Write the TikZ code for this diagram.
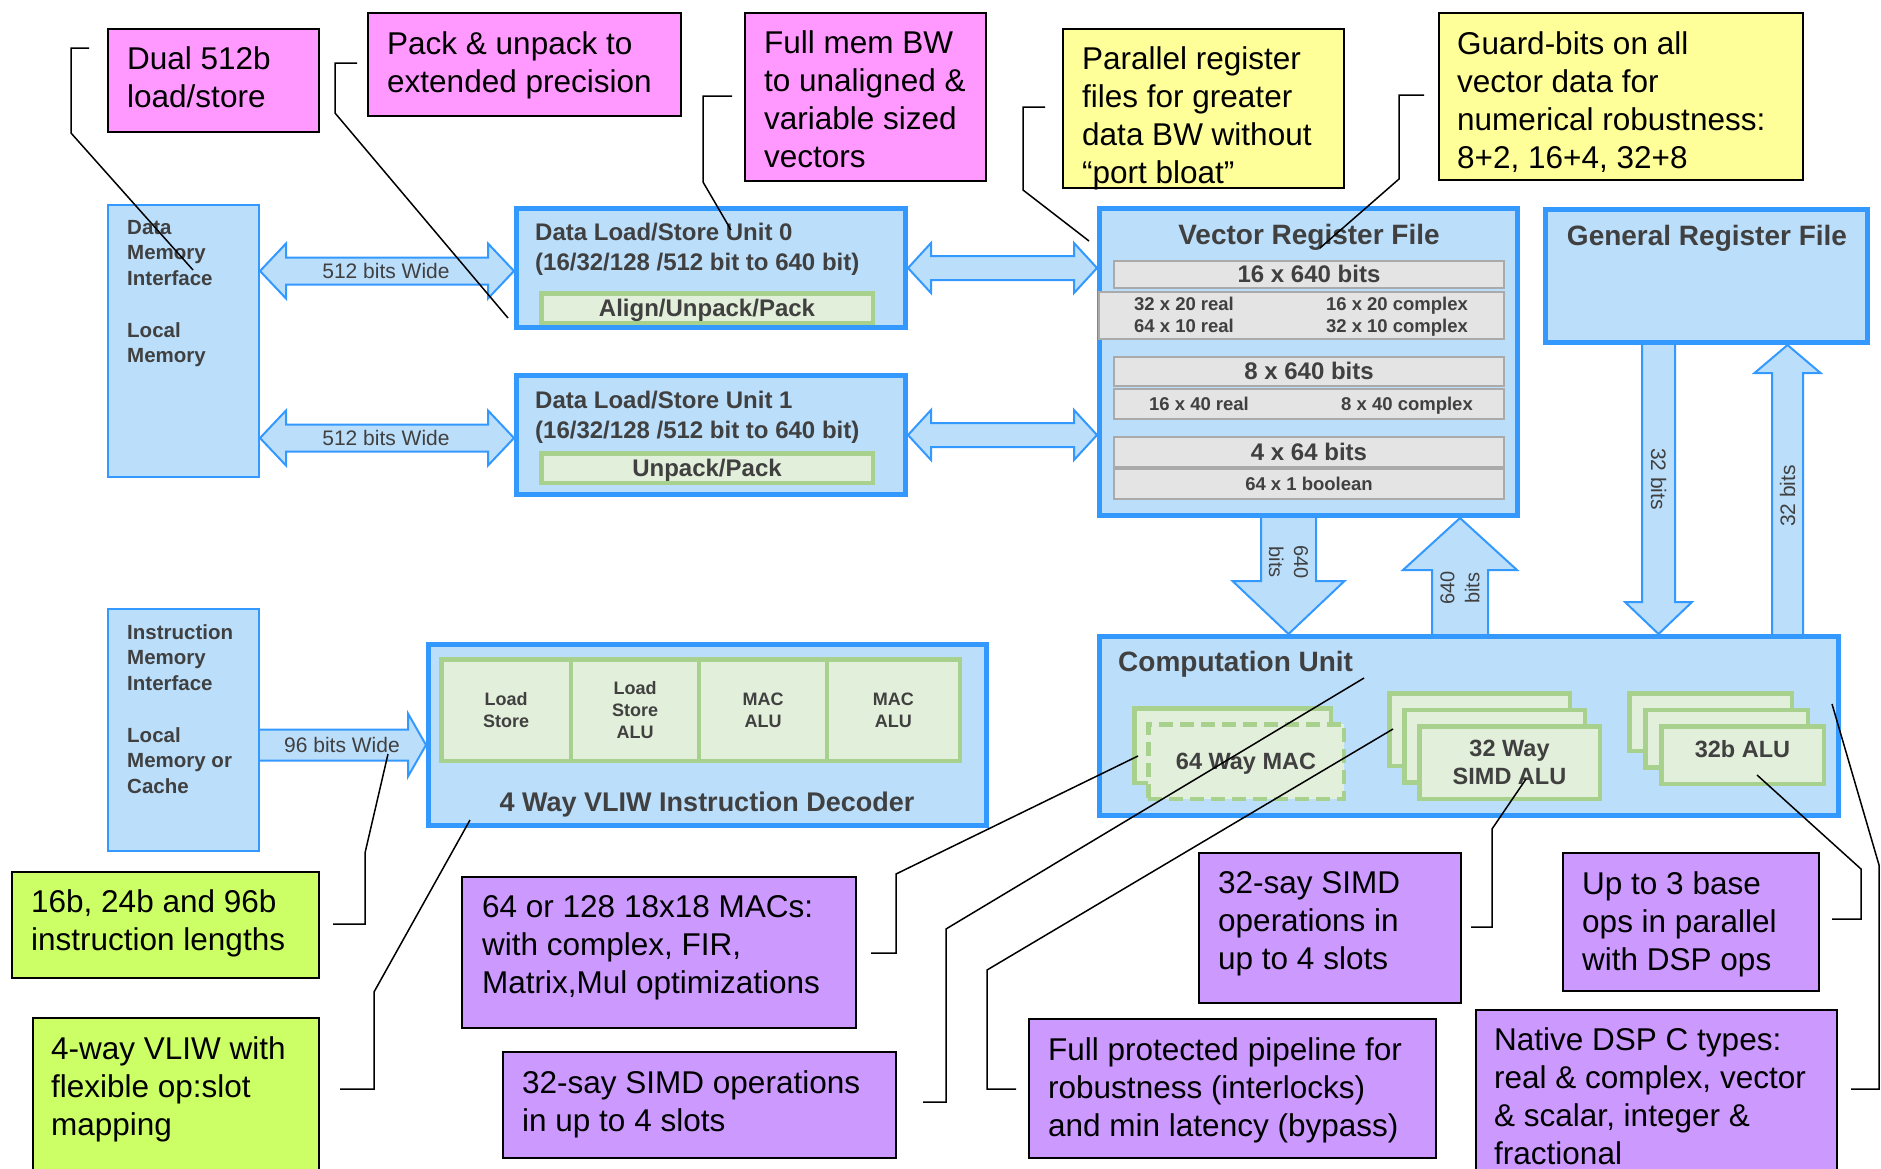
\documentclass[tikz,border=0pt]{standalone}
\usepackage{fontspec}
\setmainfont{Liberation Sans}
\usetikzlibrary{calc}

\definecolor{unitfill}{RGB}{187,222,251}
\definecolor{unitline}{RGB}{51,153,255}
\definecolor{slotfill}{RGB}{226,239,218}
\definecolor{slotline}{RGB}{169,209,142}
\definecolor{regfill}{RGB}{228,228,228}
\definecolor{regline}{RGB}{170,170,170}
\definecolor{inktext}{RGB}{64,64,64}
\definecolor{notepink}{RGB}{255,153,255}
\definecolor{noteyellow}{RGB}{255,255,153}
\definecolor{notelime}{RGB}{204,255,102}
\definecolor{notepurple}{RGB}{204,153,255}

\pgfdeclarelayer{paper}
\pgfdeclarelayer{flow}
\pgfsetlayers{paper,flow,main}

% first-line struts: they fix where the top of a multi-line block sits
\newcommand{\notestrut}{\rule{0pt}{26.6pt}}
\newcommand{\memstrut}{\rule{0pt}{18pt}}
\newcommand{\unitstrut}{\rule{0pt}{21pt}}

\tikzset{
  % rectangle given by its outer corners x1/y1/x2/y2 (stroke kept inside)
  corners/.style args={#1/#2/#3/#4}{at={({(#1+#3)/2},{(#2+#4)/2})},
    minimum width={#3-#1-\pgflinewidth}, minimum height={#4-#2-\pgflinewidth}},
  thinunit/.style={draw=unitline, fill=unitfill, line width=2pt, inner sep=0pt},
  thickunit/.style={draw=unitline, fill=unitfill, line width=5pt, inner sep=0pt},
  slotbox/.style={draw=slotline, fill=slotfill, line width=4.5pt, inner sep=0pt},
  regbox/.style={draw=regline, fill=regfill, line width=2pt, inner sep=0pt},
  notebox/.style={draw=black, line width=2pt, inner sep=0pt},
  notetext/.style={font=\fontsize{31.5}{38}\selectfont, align=left, inner sep=0pt, anchor=north west},
  memtext/.style={font=\bfseries\fontsize{20.5}{25.7}\selectfont, text=inktext, align=left, inner sep=0pt, anchor=north west},
  unittext/.style={font=\bfseries\fontsize{24}{30}\selectfont, text=inktext, align=left, inner sep=0pt, anchor=north west},
  bigtitle/.style={font=\bfseries\fontsize{28}{34}\selectfont, text=inktext, inner sep=0pt},
  boldlabel/.style={font=\bfseries\fontsize{24}{28}\selectfont, text=inktext, text height=16.5pt, text depth=0pt},
  regsmall/.style={font=\bfseries\fontsize{18.5}{22}\selectfont, text=inktext, text height=12.7pt, text depth=0pt},
  cellbox/.style={slotbox, font=\bfseries\fontsize{18}{22}\selectfont, text=inktext, align=center},
  culabel/.style={font=\bfseries\fontsize{23.5}{28}\selectfont, text=inktext, align=center},
  flowlabel/.style={font=\fontsize{21}{26}\selectfont, text=inktext, inner sep=0pt},
  leader/.style={draw=black, line width=1.5pt},
  flowarrow/.style={draw=unitline, fill=unitfill, line width=2pt, line join=miter},
  % shaft half width / head half width / head length
  adims/.code args={#1/#2/#3}{\def\arSh{#1}\def\arHw{#2}\def\arHl{#3}},
  dblshaft/.style={to path={let \p1=(\tikztostart), \p2=(\tikztotarget) in
    (\x1,\y1) -- ({\x1+\arHl},{\y1+\arHw}) -- ({\x1+\arHl},{\y1+\arSh}) -- ({\x2-\arHl},{\y1+\arSh})
    -- ({\x2-\arHl},{\y1+\arHw}) -- (\x2,\y1) -- ({\x2-\arHl},{\y1-\arHw}) -- ({\x2-\arHl},{\y1-\arSh})
    -- ({\x1+\arHl},{\y1-\arSh}) -- ({\x1+\arHl},{\y1-\arHw}) -- cycle}},
  shaftright/.style={to path={let \p1=(\tikztostart), \p2=(\tikztotarget) in
    (\x1,{\y1+\arSh}) -- ({\x2-\arHl},{\y1+\arSh}) -- ({\x2-\arHl},{\y1+\arHw}) -- (\x2,\y1)
    -- ({\x2-\arHl},{\y1-\arHw}) -- ({\x2-\arHl},{\y1-\arSh}) -- (\x1,{\y1-\arSh}) -- cycle}},
  shaftdown/.style={to path={let \p1=(\tikztostart), \p2=(\tikztotarget) in
    ({\x1-\arSh},\y1) -- ({\x1-\arSh},{\y2+\arHl}) -- ({\x1-\arHw},{\y2+\arHl}) -- (\x1,\y2)
    -- ({\x1+\arHw},{\y2+\arHl}) -- ({\x1+\arSh},{\y2+\arHl}) -- ({\x1+\arSh},\y1) -- cycle}},
  shaftup/.style={to path={let \p1=(\tikztostart), \p2=(\tikztotarget) in
    ({\x1-\arSh},\y1) -- ({\x1-\arSh},{\y2-\arHl}) -- ({\x1-\arHw},{\y2-\arHl}) -- (\x1,\y2)
    -- ({\x1+\arHw},{\y2-\arHl}) -- ({\x1+\arSh},{\y2-\arHl}) -- ({\x1+\arSh},\y1) -- cycle}},
}

\begin{document}
\begin{tikzpicture}[x=1pt,y=-1pt]
\useasboundingbox (0,0) rectangle (1881,1168);
\clip (0,0) rectangle (1881,1168);
\begin{pgfonlayer}{paper}
\fill[white] (0,0) rectangle (1881,1168);
\end{pgfonlayer}

% ---------- memories and units ----------
\node[thinunit, corners=107/204/260/478] (dmi) {};
\node[memtext] (dmitext) at (127,216) {\memstrut Data\\Memory\\Interface\\[25.7pt]Local\\Memory};
\node[thinunit, corners=107/608/260/852] (imi) {};
\node[memtext] (imitext) at (127,621) {\memstrut Instruction\\Memory\\Interface\\[25.7pt]Local\\Memory or\\Cache};

\node[thickunit, corners=514/206/908/330] (dlsu0) {};
\node[unittext] (dlsu0text) at (535,219.3) {\unitstrut Data Load/Store Unit 0\\(16/32/128 /512 bit to 640 bit)};
\node[slotbox, boldlabel, corners=539/291/875/325] (alignpack) {Align/Unpack/Pack};

\node[thickunit, corners=514/373/908/497] (dlsu1) {};
\node[unittext] (dlsu1text) at (535,387.3) {\unitstrut Data Load/Store Unit 1\\(16/32/128 /512 bit to 640 bit)};
\node[slotbox, boldlabel, corners=539/451/875/485] (unpackpack) {Unpack/Pack};

% vector register file
\node[thickunit, corners=1097/206/1520/518] (vrf) {};
\node[bigtitle, anchor=base] (vrftitle) at (1309,244.6) {Vector Register File};
\node[regbox, boldlabel, corners=1113/260/1505/289] (row16) {16 x 640 bits};
\node[regbox, corners=1098/291/1505/340] (row16sub) {};
\node[regsmall] (r16a) at (1184,304) {32 x 20 real};
\node[regsmall] (r16b) at (1184,326) {64 x 10 real};
\node[regsmall] (r16c) at (1397,304) {16 x 20 complex};
\node[regsmall] (r16d) at (1397,326) {32 x 10 complex};
\node[regbox, boldlabel, corners=1113/356/1505/387] (row8) {8 x 640 bits};
\node[regbox, corners=1113/388/1505/420] (row8sub) {};
\node[regsmall] (r8a) at (1199,404) {16 x 40 real};
\node[regsmall] (r8b) at (1407,404) {8 x 40 complex};
\node[regbox, boldlabel, corners=1113/436/1505/468] (row4) {4 x 64 bits};
\node[regbox, regsmall, corners=1113/468/1505/500] (row4sub) {64 x 1 boolean};

% general register file
\node[thickunit, corners=1543/207/1870/345] (grf) {};
\node[bigtitle, anchor=base] (grftitle) at (1707,245.6) {General Register File};

% instruction decoder
\node[thickunit, corners=426/642/989/828] (vliw) {};
\node[cellbox, corners=439/657/573.25/763] (slot1) {Load\\Store};
\node[cellbox, corners=568.75/657/701.25/763] (slot2) {Load\\Store\\ALU};
\node[cellbox, corners=696.75/657/829.25/763] (slot3) {MAC\\ALU};
\node[cellbox, corners=824.75/657/962/763] (slot4) {MAC\\ALU};
\node[bigtitle, font=\bfseries\fontsize{27}{32}\selectfont, anchor=base] (vliwtitle) at (707,811.3) {4 Way VLIW Instruction Decoder};

% computation unit
\node[thickunit, corners=1097/634/1841/818] (cu) {};
\node[bigtitle, anchor=base west] (cutitle) at (1118,671.6) {Computation Unit};
\node[slotbox, corners=1132/706/1333/785] (macback) {};
\node[slotbox, dash pattern=on 14pt off 7pt, culabel, text height=16.2pt, text depth=0pt, corners=1146/722/1346/801] (macfront) {64 Way MAC};
\node[slotbox, corners=1387/691/1572/768] (simd1) {};
\node[slotbox, corners=1402/707.5/1587/784.5] (simd2) {};
\node[slotbox, culabel, corners=1417/724/1602/801] (simd3) {32 Way\\SIMD ALU};
\node[slotbox, corners=1627/691/1794/753] (alu1) {};
\node[slotbox, corners=1643/707.5/1810/769.5] (alu2) {};
\node[slotbox, corners=1659/724/1826/786] (alu3) {};
\node[culabel, text height=16.2pt, text depth=0pt, inner sep=0pt] (alulabel) at (1742.5,749) {32b ALU};

% ---------- data paths ----------
\begin{pgfonlayer}{flow}
\draw[flowarrow, adims=13.5pt/27.5pt/26pt] ($(dmi.north east)+(0,67)$) to[dblshaft] (dlsu0.west);
\draw[flowarrow, adims=13.5pt/27.5pt/26pt] ($(dmi.north east)+(0,234)$) to[dblshaft] (dlsu1.west);
\draw[flowarrow, adims=12pt/25pt/23pt] (dlsu0.east) to[dblshaft] (vrf.west);
\draw[flowarrow, adims=12pt/25pt/23pt] (dlsu1.east) to[dblshaft] (vrf.west);
\draw[flowarrow, adims=15.5pt/31.5pt/18pt] ($(imi.east)+(-3,15)$) to[shaftright] (vliw.west);
\draw[flowarrow, adims=27.5pt/56pt/53pt] ($(vrf.south)+(-20,-3)$) to[shaftdown] (cu.north);
\draw[flowarrow, adims=28pt/57pt/52pt] ($(cu.north)+(-9,3)$) to[shaftup] (vrf.south);
\draw[flowarrow, adims=16.5pt/33.5pt/32pt] ($(grf.south)+(-48,-3)$) to[shaftdown] (cu.north);
\draw[flowarrow, adims=15.5pt/33pt/28pt] ($(cu.north)+(318.5,3)$) to[shaftup] (grf.south);
\end{pgfonlayer}

\node[flowlabel, text height=14.4pt, text depth=0pt] (w512a) at (386,271) {512 bits Wide};
\node[flowlabel, text height=14.4pt, text depth=0pt] (w512b) at (386,438) {512 bits Wide};
\node[flowlabel, text height=14.4pt, text depth=0pt] (w96) at (342,745) {96 bits Wide};
\node[flowlabel, font=\fontsize{20}{25}\selectfont, align=center, rotate=-90] (b640down) at (1288.5,562) {640\\bits};
\node[flowlabel, font=\fontsize{20}{25}\selectfont, align=center, rotate=90] (b640up) at (1460,588) {640\\bits};
\node[flowlabel, rotate=-90] (b32down) at (1658.5,479) {32 bits};
\node[flowlabel, rotate=90] (b32up) at (1787.5,496) {32 bits};

% ---------- notes ----------
\node[notebox, fill=notepink, corners=107/28/320/133] (dual) {};
\node[notetext] (dualtext) at (127,42.4) {\notestrut Dual 512b\\load/store};
\node[notebox, fill=notepink, corners=367/12/682/117] (pack) {};
\node[notetext] (packtext) at (387,27.4) {\notestrut Pack \& unpack to\\extended precision};
\node[notebox, fill=notepink, corners=744/12/987/182] (fullmem) {};
\node[notetext] (fullmemtext) at (764,26.4) {\notestrut Full mem BW\\to unaligned \&\\variable sized\\vectors};
\node[notebox, fill=noteyellow, corners=1062/28/1345/189] (parallel) {};
\node[notetext] (paralleltext) at (1082,43) {\notestrut Parallel register\\files for greater\\data BW without\\“port bloat”};
\node[notebox, fill=noteyellow, corners=1438/12/1804/181] (guard) {};
\node[notetext] (guardtext) at (1457,27.4) {\notestrut Guard-bits on all\\vector data for\\numerical robustness:\\8+2, 16+4, 32+8};
\node[notebox, fill=notelime, corners=11/871/320/979] (instr) {};
\node[notetext] (instrtext) at (31,885.4) {\notestrut 16b, 24b and 96b\\instruction lengths};
\node[notebox, fill=notelime, corners=32/1017/320/1185] (vliwnote) {};
\node[notetext] (vliwnotetext) at (51,1032.4) {\notestrut 4-way VLIW with\\flexible op:slot\\mapping};
\node[notebox, fill=notepurple, corners=461/876/857/1029] (macs) {};
\node[notetext] (macstext) at (482,890.4) {\notestrut 64 or 128 18x18 MACs:\\with complex, FIR,\\Matrix,Mul optimizations};
\node[notebox, fill=notepurple, corners=502/1051/897/1159] (simdA) {};
\node[notetext] (simdAtext) at (522,1066.4) {\notestrut 32-say SIMD operations\\in up to 4 slots};
\node[notebox, fill=notepurple, corners=1198/852/1462/1004] (simdB) {};
\node[notetext] (simdBtext) at (1218,866.4) {\notestrut 32-say SIMD\\operations in\\up to 4 slots};
\node[notebox, fill=notepurple, corners=1562/852/1820/992] (basenote) {};
\node[notetext] (basetext) at (1582,867.4) {\notestrut Up to 3 base\\ops in parallel\\with DSP ops};
\node[notebox, fill=notepurple, corners=1475/1009/1838/1185] (native) {};
\node[notetext] (nativetext) at (1494,1023.4) {\notestrut Native DSP C types:\\real \& complex, vector\\\& scalar, integer \&\\fractional};
\node[notebox, fill=notepurple, corners=1028/1018/1437/1159] (pipeline) {};
\node[notetext] (pipelinetext) at (1048,1033.4) {\notestrut Full protected pipeline for\\robustness (interlocks)\\and min latency (bypass)};

% ---------- leader lines ----------
\coordinate (n1s) at ($(dual.north west)+(-18,20)$);
\coordinate (n1t) at ($(dmi.north west)+(86,66)$);
\draw[leader] (n1s) -- ++(-18,0) -- ++(0,85) -- (n1t);
\coordinate (n2s) at ($(pack.north west)+(-10,51)$);
\coordinate (n2t) at ($(dlsu0.south west)+(-6,-12)$);
\draw[leader] (n2s) -- ++(-22,0) -- ++(0,50) -- (n2t);
\coordinate (n3s) at ($(fullmem.north west)+(-12,84)$);
\coordinate (n3t) at ($(dlsu0.north west)+(217,24)$);
\draw[leader] (n3s) -- ++(-29,0) -- ++(0,86) -- (n3t);
\coordinate (n4s) at ($(parallel.north west)+(-17,79)$);
\coordinate (n4t) at ($(vrf.north west)+(-8,35)$);
\draw[leader] (n4s) -- ++(-22,0) -- ++(0,83) -- (n4t);
\coordinate (n5s) at ($(guard.north west)+(-14,83)$);
\coordinate (n5t) at ($(vrf.north west)+(223,42)$);
\draw[leader] (n5s) -- ++(-25,0) -- ++(0,84) -- (n5t);
\coordinate (n6s) at ($(instr.north east)+(13,53)$);
\coordinate (n6t) at ($(vliw.west)+(-38,19)$);
\draw[leader] (n6s) -- ++(32,0) -- ++(0,-71) -- (n6t);
\coordinate (n7s) at ($(vliwnote.north east)+(20,72)$);
\coordinate (n7t) at ($(vliw.south west)+(44,-8)$);
\draw[leader] (n7s) -- ++(34,0) -- ++(0,-97) -- (n7t);
\coordinate (n8s) at ($(macs.north east)+(14,77)$);
\coordinate (n8t) at ($(cu.north west)+(41,122)$);
\draw[leader] (n8s) -- ++(25,0) -- ++(0,-79) -- (n8t);
\coordinate (n9s) at ($(simdA.north east)+(26,51)$);
\coordinate (n9t) at ($(cu.north west)+(267,44)$);
\draw[leader] (n9s) -- ++(23,0) -- ++(0,-173) -- (n9t);
\coordinate (n10s) at ($(pipeline.north west)+(-12,71)$);
\coordinate (n10t) at ($(cu.north west)+(296,95)$);
\draw[leader] (n10s) -- ++(-29,0) -- ++(0,-119) -- (n10t);
\coordinate (n11s) at ($(simdB.north east)+(9,75)$);
\coordinate (n11t) at ($(cu.north west)+(429,145)$);
\draw[leader] (n11s) -- ++(21,0) -- ++(0,-98) -- (n11t);
\coordinate (n12s) at ($(basenote.north east)+(12,67)$);
\coordinate (n12t) at ($(cu.north west)+(660,141)$);
\draw[leader] (n12s) -- ++(29,0) -- ++(0,-50) -- (n12t);
\coordinate (n13s) at ($(native.north east)+(13,80)$);
\coordinate (n13t) at ($(cu.north east)+(-9,70)$);
\draw[leader] (n13s) -- ++(28,0) -- ++(0,-224) -- (n13t);
\end{tikzpicture}
\end{document}
